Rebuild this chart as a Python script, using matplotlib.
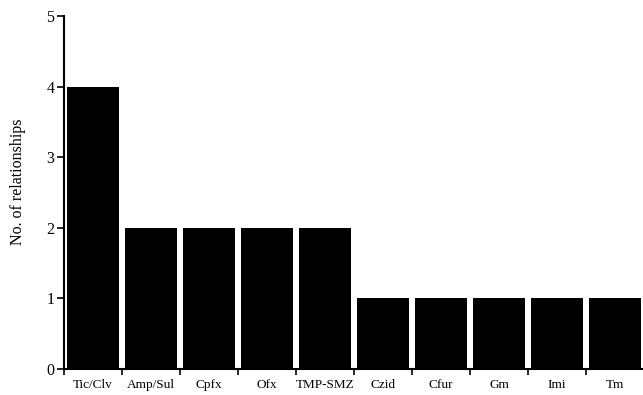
import matplotlib
matplotlib.use("Agg")
import matplotlib.pyplot as plt
import numpy as np

categories = ["Tic/Clv", "Amp/Sul", "Cpfx", "Ofx", "TMP-SMZ", "Czid", "Cfur", "Gm", "Imi", "Tm"]
relationships = [4, 2, 2, 2, 2, 1, 1, 1, 1, 1]
y_ticks = [0, 1, 2, 3, 4, 5]

plt.rcParams["font.family"] = ["Liberation Serif", "DejaVu Serif"]

fig = plt.figure(figsize=(6.43, 3.95), dpi=100)
ax = fig.add_axes([64 / 643, 26 / 395, 580 / 643, 353 / 395])

x = np.arange(len(categories))
ax.bar(x, relationships, width=0.9, color="black", edgecolor="none")

ax.set_xlim(-0.5, len(categories) - 0.5)
ax.set_ylim(0, 5)
ax.set_yticks(y_ticks)
ax.set_xticks(x)
ax.set_xticklabels(categories, fontsize=9.5)
ax.set_xticks(np.arange(len(categories) + 1) - 0.5, minor=True)
ax.tick_params(axis="x", which="major", length=0, pad=7)
ax.tick_params(axis="x", which="minor", length=4, width=1.2, direction="out")
ax.tick_params(axis="y", length=5, width=1.2, direction="out", labelsize=11.5, pad=2)

for side in ["top", "right"]:
    ax.spines[side].set_visible(False)
for side in ["left", "bottom"]:
    ax.spines[side].set_linewidth(1.5)

ax.set_ylabel("No. of relationships", fontsize=11.5)
ax.yaxis.set_label_coords(-0.066, 0.53)

fig.savefig("out.png", dpi=100)
